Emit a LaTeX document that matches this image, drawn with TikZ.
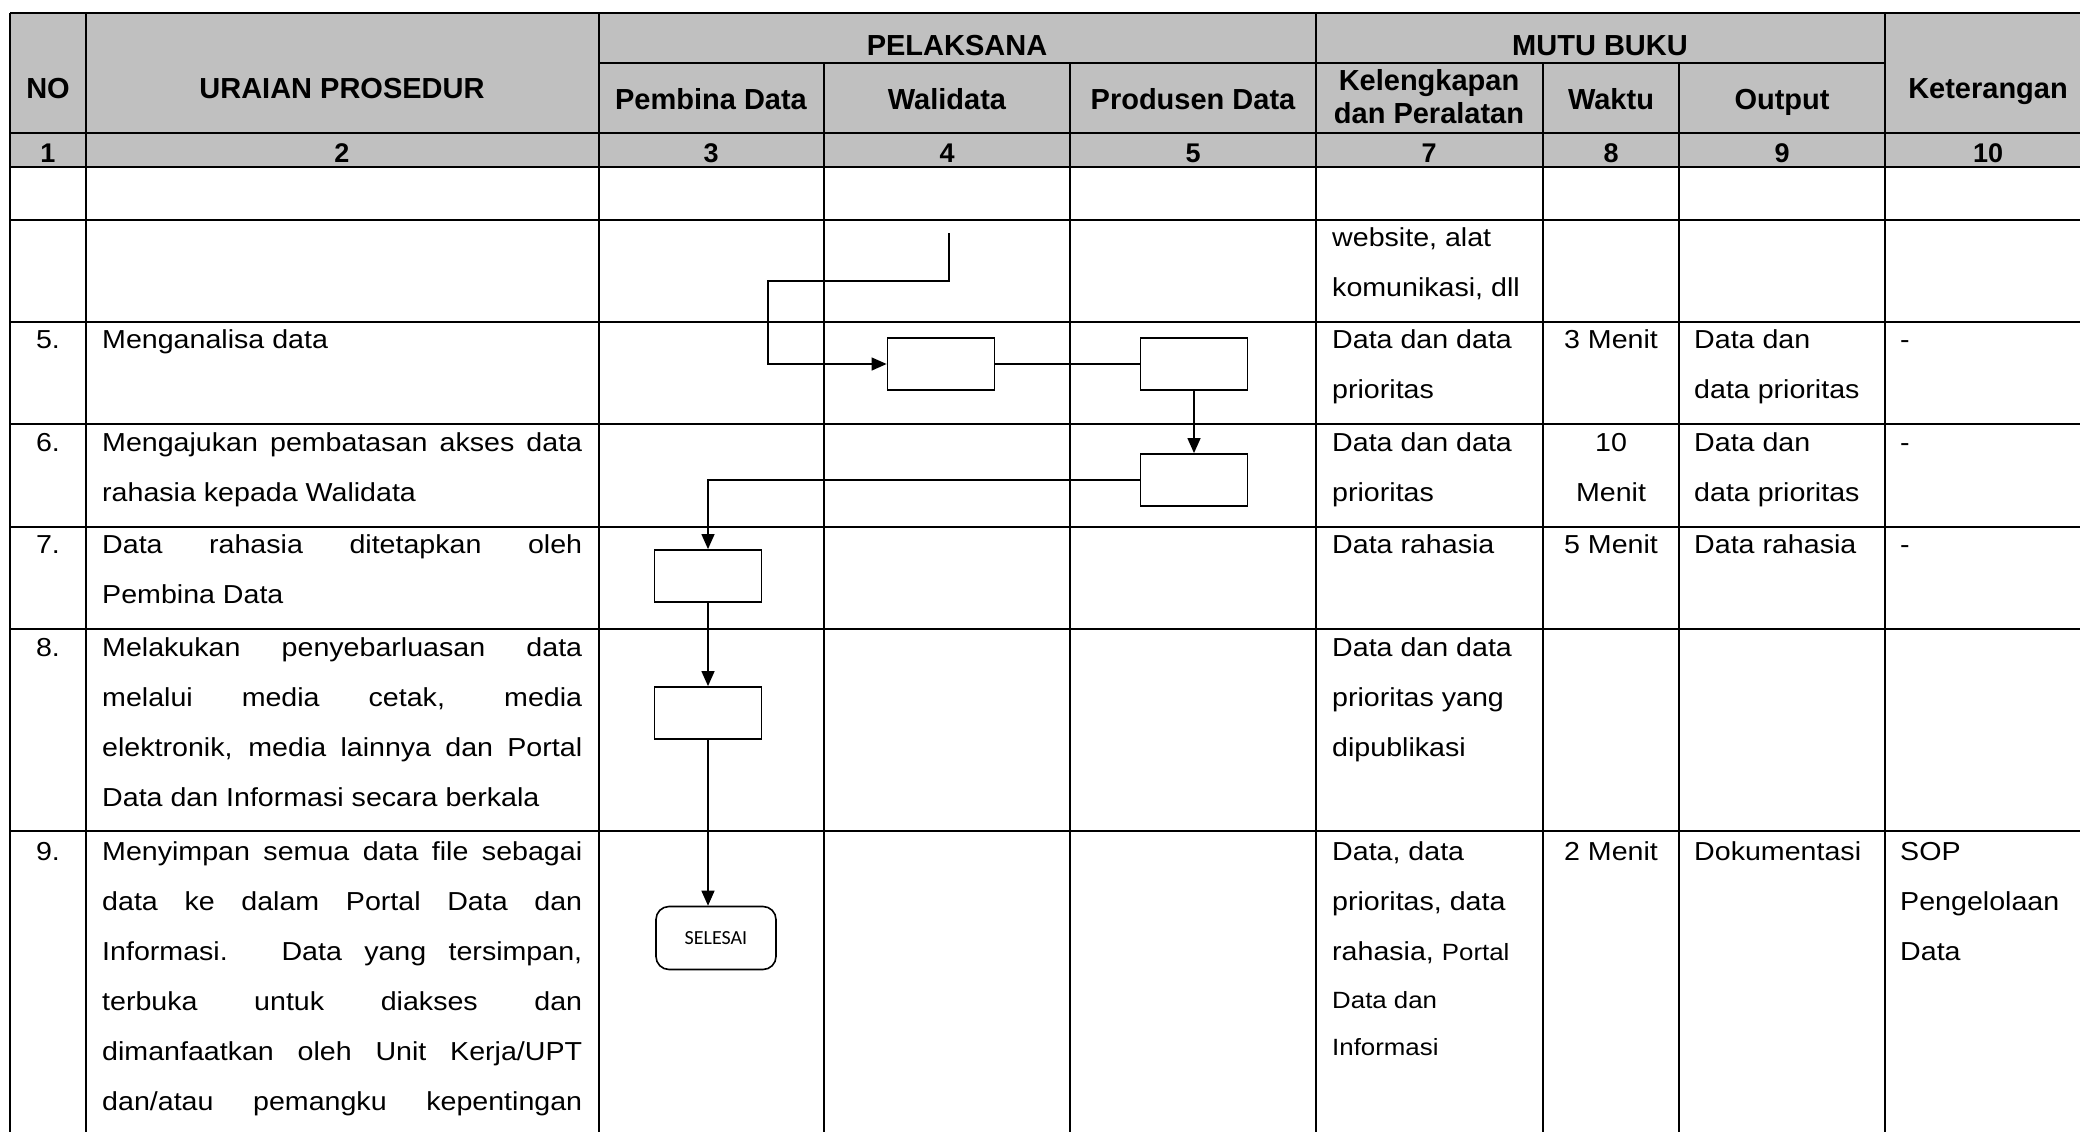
\documentclass[tikz,border=0pt]{standalone}
\usepackage{fontspec}
\setmainfont{Liberation Sans}
\newfontfamily\bodyfont{Liberation Sans}[FakeStretch=1.1]
\newfontfamily\calibfont{Carlito}
\usetikzlibrary{arrows.meta, positioning}
\definecolor{hdrgray}{RGB}{192,192,192}
\newcommand\fullline[1]{\makebox[480pt][s]{#1}}

\begin{document}
\begin{tikzpicture}[x=1pt,y=-1pt,
  hdr/.style={font=\bfseries\fontsize{29}{32}\selectfont,anchor=base,inner sep=0pt},
  num/.style={font=\bfseries\fontsize{27}{30}\selectfont,anchor=base,inner sep=0pt},
  txt/.style={font=\bodyfont\fontsize{26}{50}\selectfont,anchor=base west,inner sep=0pt},
  ctxt/.style={txt,anchor=base},
  sml/.style={txt,font=\bodyfont\fontsize{23.5}{48}\selectfont},
  proc/.style={draw,line width=1.8pt,minimum width=107pt,minimum height=52pt,inner sep=0pt},
  endbox/.style={draw,line width=1.6pt,rounded corners=13pt,minimum width=120pt,minimum height=63pt,font=\calibfont\fontsize{20}{24}\selectfont},
  flow/.style={line width=1.3pt,-{Triangle[length=15pt,width=13pt]}},
  link/.style={line width=1.3pt},
  gridline/.style={line width=2pt}]
\useasboundingbox (0,0) rectangle (2080,1132);
\clip (0,0) rectangle (2080,1132);

\fill[hdrgray] (10,13) rectangle (2091,167);
\foreach \y in {13,133,167,220,322,424,527,629,831}
  \draw[gridline] (10,\y) -- (2091,\y);
\draw[gridline] (599,63) -- (1885,63);
\foreach \x in {10,86,599,1316,1885,2091}
  \draw[gridline] (\x,13) -- (\x,1140);
\foreach \x in {824,1070,1543,1679}
  \draw[gridline] (\x,63) -- (\x,1140);

\node[hdr] (hNo) at (48,99) {NO};
\node[hdr] (hUraian) at (342,99) {URAIAN PROSEDUR};
\node[hdr] (hPelaksana) at (957,56) {PELAKSANA};
\node[hdr] (hMutu) at (1600,56) {MUTU BUKU};
\node[hdr] (hPembina) at (711,109) {Pembina Data};
\node[hdr] (hWalidata) at (947,109) {Walidata};
\node[hdr] (hProdusen) at (1193,109) {Produsen Data};
\node[hdr] (hKelengkapan) at (1429,91) {Kelengkapan};
\node[hdr] (hPeralatan) at (1429,123) {dan Peralatan};
\node[hdr] (hWaktu) at (1611,109) {Waktu};
\node[hdr] (hOutput) at (1782,109) {Output};
\node[hdr] (hKet) at (1988,99) {Keterangan};
\foreach \lbl/\x in {1/48,2/342,3/711,4/947,5/1193,7/1429,8/1611,9/1782,10/1988}
  \node[num] (n\lbl) at (\x,162) {\lbl};

\node[txt] (kel4a) at (1332,246) {website, alat};
\node[txt] (kel4b) at (1332,296) {komunikasi, dll};

\node[ctxt] (no5) at (48,348) {5.};
\node[txt] (ur5) at (102,348) {Menganalisa data};
\node[txt] (kel5a) at (1332,348) {Data dan data};
\node[txt] (kel5b) at (1332,398) {prioritas};
\node[ctxt] (wkt5) at (1611,348) {3 Menit};
\node[txt] (out5a) at (1694,348) {Data dan};
\node[txt] (out5b) at (1694,398) {data prioritas};
\node[txt] (ket5) at (1900,348) {-};

\node[ctxt] (no6) at (48,451) {6.};
\node[txt] (ur6a) at (102,451) {\fullline{Mengajukan pembatasan akses data}};
\node[txt] (ur6b) at (102,501) {rahasia kepada Walidata};
\node[txt] (kel6a) at (1332,451) {Data dan data};
\node[txt] (kel6b) at (1332,501) {prioritas};
\node[ctxt] (wkt6a) at (1611,451) {10};
\node[ctxt] (wkt6b) at (1611,501) {Menit};
\node[txt] (out6a) at (1694,451) {Data dan};
\node[txt] (out6b) at (1694,501) {data prioritas};
\node[txt] (ket6) at (1900,451) {-};

\node[ctxt] (no7) at (48,553) {7.};
\node[txt] (ur7a) at (102,553) {\fullline{Data rahasia ditetapkan oleh}};
\node[txt] (ur7b) at (102,603) {Pembina Data};
\node[txt] (kel7) at (1332,553) {Data rahasia};
\node[ctxt] (wkt7) at (1611,553) {5 Menit};
\node[txt] (out7) at (1694,553) {Data rahasia};
\node[txt] (ket7) at (1900,553) {-};

\node[ctxt] (no8) at (48,656) {8.};
\node[txt] (ur8a) at (102,656) {\fullline{Melakukan penyebarluasan data}};
\node[txt] (ur8b) at (102,706) {\fullline{melalui media cetak, media}};
\node[txt] (ur8c) at (102,756) {\fullline{elektronik, media lainnya dan Portal}};
\node[txt] (ur8d) at (102,806) {Data dan Informasi secara berkala};
\node[txt] (kel8a) at (1332,656) {Data dan data};
\node[txt] (kel8b) at (1332,706) {prioritas yang};
\node[txt] (kel8c) at (1332,756) {dipublikasi};

\node[ctxt] (no9) at (48,860) {9.};
\node[txt] (ur9a) at (102,860) {\fullline{Menyimpan semua data file sebagai}};
\node[txt] (ur9b) at (102,910) {\fullline{data ke dalam Portal Data dan}};
\node[txt] (ur9c) at (102,960) {\fullline{Informasi. Data yang tersimpan,}};
\node[txt] (ur9d) at (102,1010) {\fullline{terbuka untuk diakses dan}};
\node[txt] (ur9e) at (102,1060) {\fullline{dimanfaatkan oleh Unit Kerja/UPT}};
\node[txt] (ur9f) at (102,1110) {\fullline{dan/atau pemangku kepentingan}};
\node[txt] (kel9a) at (1332,860) {Data, data};
\node[txt] (kel9b) at (1332,910) {prioritas, data};
\node[txt] (kel9c) at (1332,960) {rahasia, {\fontsize{23.5}{48}\selectfont Portal}};
\node[sml] (kel9d) at (1332,1008) {Data dan};
\node[sml] (kel9e) at (1332,1055) {Informasi};
\node[ctxt] (wkt9) at (1611,860) {2 Menit};
\node[txt] (out9) at (1694,860) {Dokumentasi};
\node[txt] (ket9a) at (1900,860) {SOP};
\node[txt] (ket9b) at (1900,910) {Pengelolaan};
\node[txt] (ket9c) at (1900,960) {Data};

\node[proc] (wali5) at (941,364) {};
\node[proc] (prod5) at (1194,364) {};
\node[proc] (prod6) at (1194,480) {};
\node[proc] (pemb7) at (708,576) {};
\node[proc] (pemb8) at (708,713) {};
\node[endbox] (selesai) at (716,938) {SELESAI};
\coordinate (wali4) at (949,233);
\coordinate (turn4) at (768,281);

\draw[flow] (wali4) |- (turn4) |- (wali5.west);
\draw[link] (wali5.east) -- (prod5.west);
\draw[flow] (prod5) -- (prod6);
\draw[flow] (prod6.west) -| (pemb7.north);
\draw[flow] (pemb7) -- (pemb8);
\draw[flow] (pemb8.south) -- (pemb8.south |- selesai.north);
\end{tikzpicture}
\end{document}
